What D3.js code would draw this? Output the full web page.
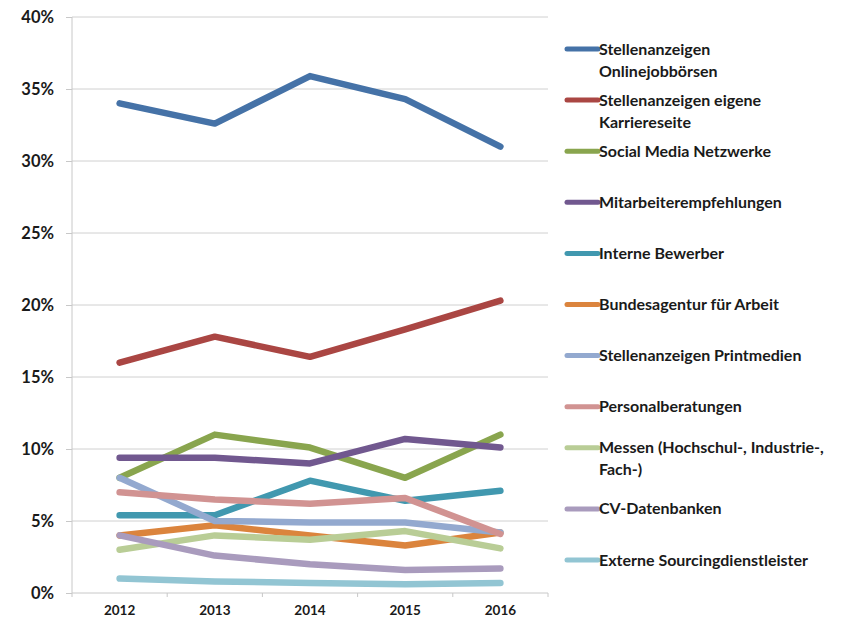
<!DOCTYPE html>
<html lang="de">
<head>
    <meta charset="UTF-8">
    <title>Recruiting-Kanäle</title>
    <script src="https://d3js.org/d3.v7.min.js"></script>
    <style>
        body { margin: 0; background: #fff; }
        text { font-family: Lato, "Liberation Sans", sans-serif; font-weight: bold; fill: #1a1a1a; }
        .grid line { stroke: #d0d0d0; stroke-width: 1px; }
        .axis path, .axis line { stroke: #c8c8c8; }
        .series { fill: none; stroke-width: 6.5px; stroke-linejoin: round; stroke-linecap: round; }
    </style>
</head>
<body>
<svg width="842" height="620"></svg>
<script>
    // Jahre
    const years = ["2012", "2013", "2014", "2015", "2016"];

    const seriesNames = [
        "Stellenanzeigen Onlinejobbörsen",
        "Stellenanzeigen eigene Karriereseite",
        "Social Media Netzwerke",
        "Mitarbeiterempfehlungen",
        "Interne Bewerber",
        "Bundesagentur für Arbeit",
        "Stellenanzeigen Printmedien",
        "Personalberatungen",
        "Messen (Hochschul-, Industrie-, Fach-)",
        "CV-Datenbanken",
        "Externe Sourcingdienstleister"
    ];

    // Anteile in %
    const online     = [34.0, 32.6, 35.9, 34.3, 31.0];
    const karriere   = [16.0, 17.8, 16.4, 18.3, 20.3];
    const social     = [8.0, 11.0, 10.1, 8.0, 11.0];
    const empfehlung = [9.4, 9.4, 9.0, 10.7, 10.1];
    const intern     = [5.4, 5.4, 7.8, 6.4, 7.1];
    const agentur    = [4.0, 4.7, 4.0, 3.3, 4.2];
    const print      = [8.0, 5.0, 4.9, 4.9, 4.2];
    const beratung   = [7.0, 6.5, 6.2, 6.6, 4.1];
    const messen     = [3.0, 4.0, 3.7, 4.3, 3.1];
    const cvdb       = [4.0, 2.6, 2.0, 1.6, 1.7];
    const extern     = [1.0, 0.8, 0.7, 0.6, 0.7];

    const seriesValues = [online, karriere, social, empfehlung, intern, agentur,
        print, beratung, messen, cvdb, extern];

    const colors = ["#4572A7", "#AA4643", "#89A54E", "#71588F", "#4198AF", "#DB843D",
        "#93A9CF", "#D19392", "#B9CD96", "#A99BBD", "#92C5D3"];

    const yTicks = [0, 5, 10, 15, 20, 25, 30, 35, 40];

    const svg = d3.select("svg");
    const m = {left: 72, right: 548, top: 17, bottom: 593};

    const x = d3.scaleBand().domain(years).range([m.left, m.right]);
    const y = d3.scaleLinear().domain([0, 40]).range([m.bottom, m.top]);

    // Gitternetz
    svg.append("g").attr("class", "grid")
        .selectAll("line").data(yTicks.slice(1)).join("line")
        .attr("x1", m.left).attr("x2", m.right)
        .attr("y1", d => y(d)).attr("y2", d => y(d));

    // y-Achse
    const yAxis = svg.append("g").attr("class", "axis")
        .attr("transform", `translate(${m.left},0)`)
        .call(d3.axisLeft(y).tickValues(yTicks).tickSize(6).tickPadding(12)
            .tickFormat(d => d + "%"));
    yAxis.select(".domain").attr("d", `M0,${m.top}V${m.bottom}`);
    yAxis.selectAll("text").style("font-size", "16.5px");

    // x-Achse
    const xAxis = svg.append("g").attr("class", "axis")
        .attr("transform", `translate(0,${m.bottom})`)
        .call(d3.axisBottom(x).tickSize(0).tickPadding(12));
    xAxis.select(".domain").attr("d", `M${m.left},0H${m.right}`);
    xAxis.selectAll("text").style("font-size", "13.5px");
    xAxis.selectAll("line.sep")
        .data(years.concat(["end"])).join("line")
        .attr("class", "sep")
        .attr("x1", (d, i) => m.left + i * x.step()).attr("x2", (d, i) => m.left + i * x.step())
        .attr("y1", 0).attr("y2", 4);

    const line = d3.line()
        .x((d, i) => x(years[i]) + x.bandwidth() / 2)
        .y(d => y(d));

    // Linien
    svg.append("g").selectAll("path")
        .data(seriesValues)
        .join("path")
        .attr("class", "series")
        .attr("stroke", (d, i) => colors[i])
        .attr("d", d => line(d));

    // Legende
    const wraps = {
        0: ["Stellenanzeigen", "Onlinejobbörsen"],
        1: ["Stellenanzeigen eigene", "Karriereseite"],
        8: ["Messen (Hochschul-, Industrie-,", "Fach-)"]
    };
    const legend = svg.append("g");
    const entry = legend.selectAll("g").data(seriesNames).join("g")
        .attr("transform", (d, i) => `translate(567,${49 + i * 51.1 - (i === 8 ? 10 : 0)})`);
    entry.append("line")
        .attr("x1", 0).attr("x2", 31).attr("y1", 0).attr("y2", 0)
        .attr("stroke", (d, i) => colors[i]).attr("stroke-width", 5)
        .attr("stroke-linecap", "round");
    entry.append("text")
        .attr("x", 32).attr("y", 5.5)
        .style("font-size", "16px")
        .selectAll("tspan")
        .data((d, i) => wraps[i] || [d])
        .join("tspan")
        .attr("x", 32)
        .attr("dy", (d, j) => j === 0 ? 0 : 22)
        .text(d => d);
</script>
</body>
</html>
